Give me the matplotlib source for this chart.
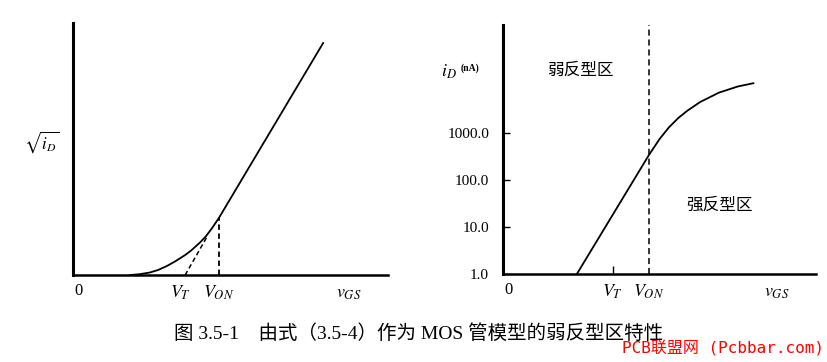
import matplotlib
matplotlib.use("Agg")
import matplotlib.pyplot as plt

plt.rcParams['mathtext.fontset'] = 'stix'
plt.rcParams['font.family'] = ['Liberation Serif', 'Noto Sans CJK SC']

# Left panel: sqrt(iD) vs vGS (arbitrary units)
left_x = [1.81, 2.1, 2.44, 2.7, 2.98, 3.25, 3.56, 3.75, 4.03, 4.22, 4.41, 4.63, 7.94]
left_y = [0.0, 0.03, 0.1, 0.2, 0.36, 0.55, 0.8, 0.98, 1.3, 1.55, 1.87, 2.28, 9.28]
tangent_x = [3.56, 4.25]
tangent_y = [0.0, 1.52]
left_vt = 3.56
left_von = 4.63
left_von_y = 2.28

# Right panel: iD (nA, log scale) vs vGS
right_x = [2.36, 4.66, 5.0, 5.3, 5.6, 5.9, 6.3, 6.9, 7.5, 8.0]
right_y = [1.0, 339, 741, 1318, 2089, 3020, 4571, 7244, 9772, 11482]
right_vt = 3.51
right_von = 4.66
decade_ticks = [1, 10, 100, 1000]
decade_labels = ['1.0', '10.0', '100.0', '1000.0']
vgs_pos = 8.75

fig = plt.figure(figsize=(8.28, 3.62), dpi=100)
axl = fig.add_axes([0.0882, 0.2403, 0.3804, 0.696])
axr = fig.add_axes([0.6075, 0.2431, 0.378, 0.688])

for ax in (axl, axr):
    ax.spines['top'].set_visible(False)
    ax.spines['right'].set_visible(False)
    ax.spines['left'].set_linewidth(2.2)
    ax.spines['bottom'].set_linewidth(1.8)
    ax.set_xlim(0, 10)

# ---- left panel
axl.set_ylim(0, 10.08)
axl.plot(left_x, left_y, color='black', lw=1.3)
axl.plot(tangent_x, tangent_y, color='black', lw=1.1, ls=(0, (3, 2)))
axl.plot([left_von, left_von], [0, left_von_y], color='black', lw=1.3, ls=(0, (3, 2)))
axl.set_xticks([])
axl.set_yticks([])
xt = axl.get_xaxis_transform()
axl.text(0.05, -0.063, '0', transform=xt, ha='left', va='center', fontsize=12)
axl.text(left_vt - 0.15, -0.07, '$V_T$', transform=xt, ha='center', va='center', fontsize=13)
axl.text(left_von, -0.07, '$V_{ON}$', transform=xt, ha='center', va='center', fontsize=13)
axl.text(vgs_pos, -0.075, '$v_{GS}$', transform=xt, ha='center', va='center', fontsize=13)
axl.text(-0.098, 0.528, r'$\sqrt{i_D}$', transform=axl.transAxes, ha='center', va='center', fontsize=12)

# ---- right panel
axr.set_yscale('log')
axr.set_ylim(1.0, 10 ** 5.3)
axr.plot(right_x, right_y, color='black', lw=1.3)
axr.axvline(right_von, color='black', lw=1.1, ls=(0, (4, 2.5)))
axr.set_yticks(decade_ticks)
axr.set_yticklabels(decade_labels, fontsize=11)
axr.yaxis.set_minor_locator(matplotlib.ticker.NullLocator())
axr.tick_params(axis='y', direction='in', length=5, width=1, pad=10)
axr.set_xticks([right_vt])
axr.set_xticklabels([''])
axr.tick_params(axis='x', direction='in', length=6, width=1)
xt = axr.get_xaxis_transform()
axr.text(0.05, -0.063, '0', transform=xt, ha='left', va='center', fontsize=12)
axr.text(right_vt, -0.07, '$V_T$', transform=xt, ha='center', va='center', fontsize=13)
axr.text(right_von, -0.07, '$V_{ON}$', transform=xt, ha='center', va='center', fontsize=13)
axr.text(vgs_pos, -0.075, '$v_{GS}$', transform=xt, ha='center', va='center', fontsize=13)
axr.text(-0.173, 0.811, '$i_D$', transform=axr.transAxes, ha='center', va='center', fontsize=13)
axr.text(-0.105, 0.827, '(nA)', transform=axr.transAxes, ha='center', va='center',
         fontsize=7, fontweight='bold')
axr.text(0.246, 0.819, '弱反型区', transform=axr.transAxes, ha='center', va='center',
         fontsize=12, family=['Noto Sans CJK SC'])
axr.text(0.693, 0.277, '强反型区', transform=axr.transAxes, ha='center', va='center',
         fontsize=12, family=['Noto Sans CJK SC'])

# caption and watermark
fig.text(0.506, 0.0773, '图 3.5-1    由式（3.5-4）作为 MOS 管模型的弱反型区特性',
         ha='center', va='center', fontsize=14,
         family=['Liberation Serif', 'Noto Sans CJK SC'])
fig.text(0.873, 0.039, 'PCB联盟网 (Pcbbar.com)', ha='center', va='center', fontsize=11.5,
         color='red', family=['DejaVu Sans Mono', 'Noto Sans CJK SC'])

fig.savefig('out.png', dpi=100)
